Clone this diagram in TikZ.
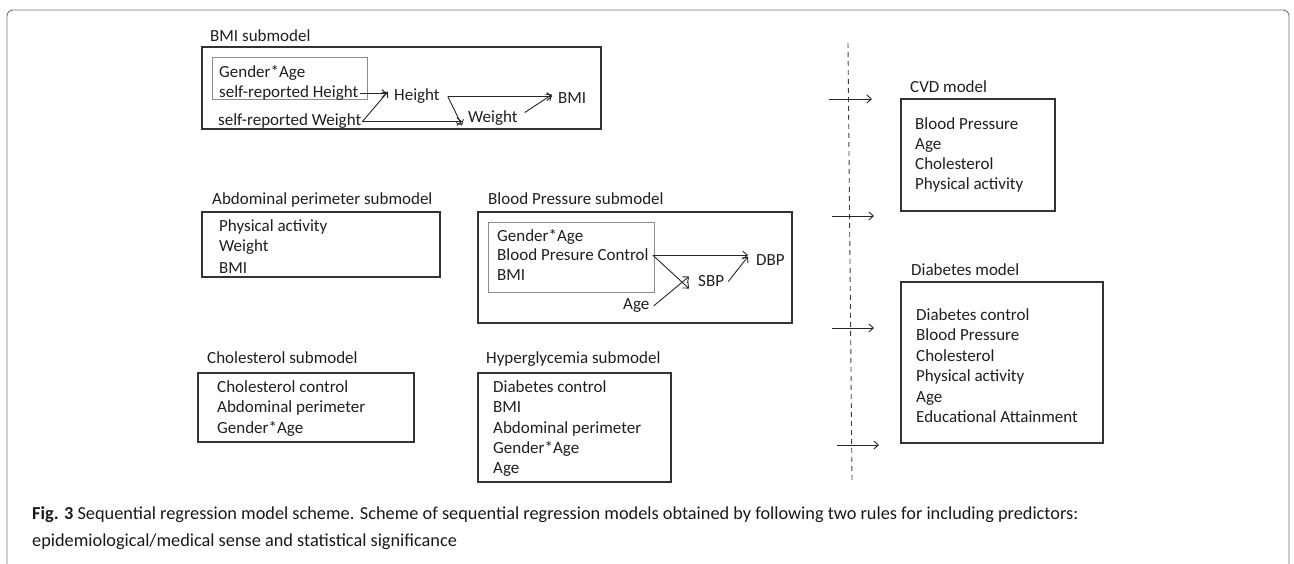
\documentclass[tikz,border=0pt]{standalone}
\usepackage{fontspec}
\setmainfont{Carlito}
\newfontfamily\capfont{Carlito}
\usetikzlibrary{arrows.meta}
\begin{document}
\begin{tikzpicture}[x=1pt,y=-1pt,
  txt/.style={anchor=base west,inner sep=0pt,text=black!88,font=\fontsize{17}{20}\selectfont},
  box/.style={draw=black!80,line width=1.3pt,anchor=north west,inner sep=0pt,outer sep=0pt},
  inbox/.style={draw=black!45,line width=0.9pt,anchor=north west,inner sep=0pt,outer sep=0pt},
  arr/.style={draw=black!85,line width=0.9pt,-{Straight Barb[length=4.5pt,width=8pt]}},
  dashline/.style={draw=black!75,line width=0.9pt,dash pattern=on 5pt off 4pt},
  captxt/.style={anchor=base west,inner sep=0pt,text=black!90,font=\capfont\fontsize{18.3}{20}\selectfont}]
\useasboundingbox (0,0) rectangle (1294,564);
% outer frame
\draw[black!55,line width=0.9pt,rounded corners=6pt] (7,564) -- (7,10) -- (1289,10) -- (1289,564);

% ---------- BMI submodel ----------
\node[txt] (bmilbl) at (210,42) {BMI submodel};
\node[box,minimum width=399pt,minimum height=82pt] (bmibox) at (202,47) {};
\node[inbox,minimum width=155pt,minimum height=42pt] (bmiin) at (212,57) {};
\node[txt] (ga1) at (219,78) {Gender*Age};
\node[txt] (selfH) at (219,98) {self-reported Height};
\node[txt] (selfW) at (218,126) {self-reported Weight};
\node[txt] (height) at (394,101) {Height};
\node[txt] (weight) at (468,123) {Weight};
\node[txt] (bmi) at (558,104) {BMI};
\draw[arr] ([xshift=2pt]selfH.east) -- ([xshift=-7pt]height.west |- selfH.east);
\draw[arr] ([xshift=1pt]selfW.east) -- ([shift={(-6pt,5pt)}]height.west);
\draw[arr] ([xshift=1pt]selfW.east) -- ([xshift=-6pt]weight.west |- selfW.east);
\draw[arr] ([xshift=8pt]height.east) -- ([shift={(-6pt,-7pt)}]weight.west);
\draw[arr] ([xshift=8pt]height.east) -- ([xshift=-6pt]bmi.west |- height.east);
\draw[arr] ([shift={(7pt,6pt)}]weight.east) -- ([shift={(-6pt,4pt)}]bmi.west);

% ---------- Abdominal perimeter submodel ----------
\node[txt] (abdlbl) at (212,205) {Abdominal perimeter submodel};
\node[box,minimum width=238pt,minimum height=65pt] (abdbox) at (202,212) {};
\node[txt] (abd1) at (219,232) {Physical activity};
\node[txt] (abd2) at (219,252) {Weight};
\node[txt] (abd3) at (219,273) {BMI};

% ---------- Blood Pressure submodel ----------
\node[txt] (bplbl) at (488,205) {Blood Pressure submodel};
\node[box,minimum width=314pt,minimum height=111pt] (bpbox) at (478,212) {};
\node[inbox,minimum width=166pt,minimum height=70pt] (bpin) at (488,222) {};
\node[txt] (bpga) at (497,242) {Gender*Age};
\node[txt] (bpc) at (497,261) {Blood Presure Control};
\node[txt] (bpbmi) at (497,280) {BMI};
\node[txt] (sbp) at (698,287) {SBP};
\node[txt] (dbp) at (756,266) {DBP};
\node[txt] (age) at (623,309) {Age};
\draw[arr] ([xshift=4pt]bpc.east) -- ([xshift=-8pt]dbp.west |- bpc.east);
\draw[arr] ([xshift=4pt]bpc.east) -- ([shift={(-9pt,-7pt)}]sbp.west);
\draw[arr] ([shift={(4pt,-1pt)}]age.east) -- ([shift={(-9pt,5pt)}]sbp.west);
\draw[arr] ([xshift=4pt]sbp.east) -- ([shift={(-8pt,4pt)}]dbp.west);

% ---------- Cholesterol submodel ----------
\node[txt] (chlbl) at (207,363) {Cholesterol submodel};
\node[box,minimum width=216pt,minimum height=69pt] (chbox) at (198,373) {};
\node[txt] (ch1) at (217,392) {Cholesterol control};
\node[txt] (ch2) at (217,412) {Abdominal perimeter};
\node[txt] (ch3) at (217,433) {Gender*Age};

% ---------- Hyperglycemia submodel ----------
\node[txt] (hylbl) at (486,363) {Hyperglycemia submodel};
\node[box,minimum width=193pt,minimum height=109pt] (hybox) at (478,373) {};
\node[txt] (hy1) at (493,392) {Diabetes control};
\node[txt] (hy2) at (493,412) {BMI};
\node[txt] (hy3) at (493,433) {Abdominal perimeter};
\node[txt] (hy4) at (493,453) {Gender*Age};
\node[txt] (hy5) at (493,473) {Age};

% ---------- dashed separator and arrows ----------
\coordinate (dtop) at (848,43);
\coordinate (dbot) at (852,482);
\draw[dashline] (dtop) -- (dbot);
\coordinate (a1s) at (829,99);  \coordinate (a1e) at (872,99);
\coordinate (a2s) at (832,216); \coordinate (a2e) at (874,216);
\coordinate (a3s) at (832,328); \coordinate (a3e) at (874,328);
\coordinate (a4s) at (837,445); \coordinate (a4e) at (879,445);
\draw[arr] (a1s) -- (a1e);
\draw[arr] (a2s) -- (a2e);
\draw[arr] (a3s) -- (a3e);
\draw[arr] (a4s) -- (a4e);

% ---------- CVD model ----------
\node[txt] (cvdlbl) at (910,93) {CVD model};
\node[box,minimum width=154pt,minimum height=112pt] (cvdbox) at (901,99) {};
\node[txt] (cvd1) at (915,130) {Blood Pressure};
\node[txt] (cvd2) at (915,150) {Age};
\node[txt] (cvd3) at (915,170) {Cholesterol};
\node[txt] (cvd4) at (915,190) {Physical activity};

% ---------- Diabetes model ----------
\node[txt] (dmlbl) at (911,276) {Diabetes model};
\node[box,minimum width=202pt,minimum height=161pt] (dmbox) at (901,282) {};
\node[txt] (dm1) at (916,320) {Diabetes control};
\node[txt] (dm2) at (916,341) {Blood Pressure};
\node[txt] (dm3) at (916,361) {Cholesterol};
\node[txt] (dm4) at (916,381) {Physical activity};
\node[txt] (dm5) at (916,402) {Age};
\node[txt] (dm6) at (916,422) {Educational Attainment};

% ---------- caption ----------
\node[captxt] (cap1) at (32,519) {\textbf{Fig. 3} Sequential regression model scheme. Scheme of sequential regression models obtained by following two rules for including predictors:};
\node[captxt] (cap2) at (32,546) {epidemiological/medical sense and statistical significance};
\end{tikzpicture}
\end{document}
